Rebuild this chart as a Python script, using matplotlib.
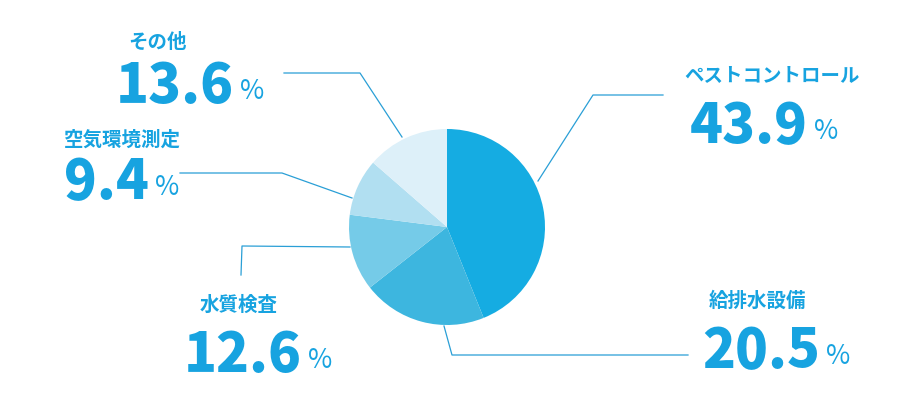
import matplotlib
matplotlib.use('Agg')
import matplotlib.pyplot as plt

plt.rcParams['font.family'] = ['Noto Sans CJK JP', 'DejaVu Sans']

## the data
labels = ['ペストコントロール', '給排水設備', '水質検査', '空気環境測定', 'その他']
values = [43.9, 20.5, 12.6, 9.4, 13.6]
colors = ['#15ace2', '#3db6df', '#75cbe8', '#b1dff1', '#ddf0f9']

txt_color = '#17a3e0'
line_color = '#2a9fd6'

fig = plt.figure(figsize=(9, 4), dpi=100)
ax = fig.add_axes([0, 0, 1, 1])

## pie in pixel coords (y runs downward)
ax.pie(values, colors=colors, startangle=270, counterclock=True,
       center=(447, 227), radius=98, wedgeprops=dict(linewidth=0))
ax.set_xlim(0, 900)
ax.set_ylim(400, 0)
ax.set_aspect('equal')
ax.axis('off')

## leader lines
leaders = [
    [(538, 181), (593, 95), (663, 95)],
    [(444, 326), (452, 355), (688, 355)],
    [(350, 247), (242, 246), (241, 275)],
    [(352, 198), (282, 173), (180, 173)],
    [(402, 137), (360, 73), (284, 73)],
]
for pts in leaders:
    xs = [p[0] for p in pts]
    ys = [p[1] for p in pts]
    ax.plot(xs, ys, color=line_color, lw=0.9)

## label positions: name centre, number left/baseline
name_pos = [(772, 76), (757, 301), (239, 305), (122, 140), (157, 42)]
num_pos = [(690, 143), (702, 368), (184, 372), (64, 199), (116, 103)]

for i in range(len(labels)):
    ax.text(name_pos[i][0], name_pos[i][1], labels[i], color=txt_color,
            fontsize=14, fontweight='bold', ha='center', va='center')
    t = ax.text(num_pos[i][0], num_pos[i][1], '%.1f' % values[i], color=txt_color,
                fontsize=39, fontweight='heavy', ha='left', va='baseline')
    ## put the % just right of the number
    ax.annotate('%', xy=(1, 0), xycoords=t, xytext=(6, 9),
                textcoords='offset pixels', color=txt_color,
                fontsize=19, ha='left', va='bottom')

plt.savefig('out.png', dpi=100, facecolor='white')
